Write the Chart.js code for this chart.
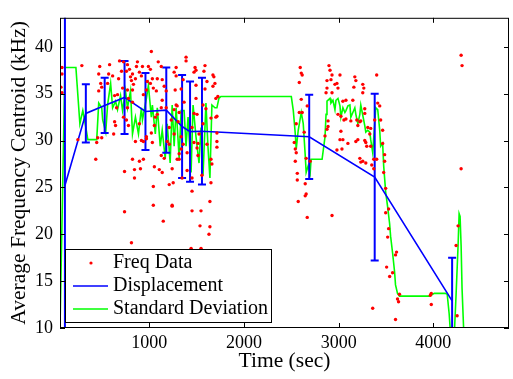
<!DOCTYPE html>
<html>
<head>
<meta charset="utf-8">
<script src="https://cdn.jsdelivr.net/npm/chart.js@4.4.1/dist/chart.umd.min.js"></script>
<style>
  html, body { margin: 0; padding: 0; background: #fff; }
</style>
</head>
<body>
<canvas id="freqChart" width="513" height="379"></canvas>
<script>
// tick values
const xTicks = [1000, 2000, 3000, 4000];
const yTicks = [10, 15, 20, 25, 30, 35, 40];

// red dots, [time (sec), centroid (kHz)]
const freqData = [
  [77,37.8],[77,37.1],[66,35.7],[77,35.1],[287,38.0],[245,30.1],[434,28.0],[444,29.8],[455,30.3],[497,30.3],
  [476,37.9],[465,37.1],[486,36.1],[465,35.3],[497,35.7],[559,36.1],[580,38.1],[570,37.1],[612,36.9],[633,34.8],
  [654,33.5],[633,32.0],[623,30.7],[643,31.6],[675,36.6],[685,38.5],[706,37.4],[727,38.4],[664,34.9],[717,35.6],
  [758,37.4],[769,38.1],[790,37.6],[801,36.8],[811,36.4],[822,35.4],[832,36.0],[853,36.6],[769,35.4],[769,33.5],
  [727,32.5],[758,32.2],[779,31.6],[822,34.1],[779,34.5],[822,37.1],[864,37.9],[874,38.4],[895,37.3],[916,36.9],
  [927,37.9],[937,34.9],[969,35.4],[979,36.3],[1011,36.1],[1021,39.5],[1011,37.6],[990,37.9],[1032,36.6],[1042,35.6],
  [1074,35.3],[1084,36.6],[1094,38.4],[1126,37.9],[1136,36.5],[1157,35.8],[1178,35.3],[1136,34.3],[1126,33.5],[1084,32.8],
  [1063,32.5],[1053,31.6],[1021,30.8],[969,30.4],[937,29.9],[895,31.8],[853,29.9],[843,26.9],[822,28.0],[843,26.0],
  [738,26.7],[738,22.4],[811,19.1],[906,27.0],[895,27.8],[937,28.0],[916,30.0],[969,30.2],[1032,29.8],[1042,25.1],
  [1053,27.2],[1042,23.1],[1126,28.4],[1105,26.9],[1136,26.6],[1157,28.1],[1252,25.5],[1241,23.1],[1147,21.4],[1189,29.9],
  [1210,29.6],[1241,27.0],[1262,30.7],[1315,28.6],[1294,28.0],[1336,29.1],[1304,32.0],[1178,33.5],[1210,31.4],[1231,32.2],
  [1262,33.3],[1283,33.8],[1315,33.0],[1262,37.3],[1283,37.8],[1283,36.9],[1273,35.4],[1336,35.5],[1357,36.5],[1388,38.9],
  [1388,38.5],[1367,34.1],[1294,33.7],[1483,37.8],[1493,37.5],[1472,37.3],[1493,35.9],[1493,34.5],[1472,32.9],[1504,32.8],
  [1588,38.0],[1577,37.4],[1609,36.3],[1588,35.5],[1567,33.8],[1598,33.4],[1672,37.0],[1682,36.8],[1693,36.1],[1672,35.8],
  [1703,34.5],[1724,34.7],[1651,32.4],[1714,32.6],[1315,28.0],[1357,29.6],[1336,30.4],[1451,24.6],[1399,28.7],[1451,31.4],
  [1472,29.8],[1514,29.7],[1525,30.7],[1504,29.2],[1514,28.4],[1567,31.8],[1556,26.3],[1609,29.6],[1651,28.0],[1651,25.5],
  [1661,27.5],[1640,23.5],[1714,29.9],[1714,29.3],[1703,32.5],[1714,30.8],[1451,22.5],[1546,22.5],[1640,20.8],[1630,20.0],
  [1535,20.9],[1441,18.5],[1546,18.5],[1241,23.0],[1451,26.0],[1346,26.0],[1399,26.8],[1210,25.3],
  [2552,28.7],[2542,27.8],[2563,26.5],[2563,25.8],[2647,25.4],[2657,24.3],[2573,23.5],[2647,24.1],[2668,21.8],[2930,22.0],
  [2594,37.8],[2605,37.2],[2615,37.0],[2584,36.2],[2605,34.4],[2668,33.7],[2584,33.0],[2615,33.0],[2552,31.8],[2531,29.8],
  [2542,29.1],[2657,28.1],[2699,27.8],[2636,30.9],[2898,38.0],[2909,37.5],[2930,37.0],[3014,37.0],[2877,36.4],[2919,36.5],
  [2961,36.0],[2982,36.1],[2993,35.6],[2877,35.6],[2867,35.1],[2930,35.1],[3171,36.8],[3182,36.4],[3161,35.7],[3255,36.0],
  [3266,35.6],[3255,35.1],[3402,37.0],[3077,34.3],[3045,34.2],[3150,34.3],[2993,32.8],[3024,32.6],[3077,32.3],[3056,32.2],
  [3129,32.1],[3192,32.2],[3203,31.6],[3276,33.4],[3276,32.9],[3234,32.1],[3224,32.0],[3308,31.4],[3329,30.7],[3276,30.0],
  [3182,29.9],[3203,30.1],[3098,29.7],[3024,31.0],[3045,30.1],[3014,30.1],[2982,29.0],[3035,29.1],[2888,32.1],[2888,31.5],
  [2877,31.2],[2856,30.5],[3339,29.4],[3287,29.8],[3297,29.4],[3381,32.2],[3413,34.0],[3444,32.2],[3224,28.1],[3255,27.8],
  [3234,27.7],[3287,27.6],[3350,27.4],[3371,27.0],[3465,31.1],[3465,29.7],[3486,28.5],[3486,27.8],[3434,33.7],[3339,31.3],
  [3371,28.0],[3402,28.0],[3476,26.6],[3497,24.9],[3528,22.7],[3497,22.3],[3528,20.6],[3518,19.7],[3612,18.1],[3601,17.8],
  [3507,16.5],[3570,15.9],[3539,15.5],[3643,13.6],[3622,13.1],[3633,12.8],[3360,12.1],[3601,10.9],[3979,13.7],[3969,13.5],
  [3979,12.5],[4294,27.0],[4262,20.9],[4241,18.8],[4252,11.3],[4294,39.1],[4304,38.0]
];

// blue line + error bars
const dispTime  = [108, 329, 528, 738, 959, 1179, 1346, 1430, 1556, 2689, 3381, 4199];
const dispValue = [25.2, 32.9, 33.75, 34.6, 33.1, 33.25, 31.5, 30.95, 31.0, 30.4, 26.1, 12.9];
const dispError = [20, 3.1, 2.95, 3.9, 4.1, 4.55, 5.5, 5.35, 5.7, 4.5, 8.9, 4.6];

// green line
const stdTime = [
  56, 108, 224, 266, 297, 329, 350, 444, 465, 497, 507, 539, 559, 591, 612, 643, 664, 696, 717, 748,
  769, 801, 822, 853, 885, 916, 927, 969, 990, 1021, 1032, 1063, 1084, 1115, 1136, 1168, 1189, 1220, 1241, 1262,
  1283, 1315, 1336, 1367, 1388, 1409, 1441, 1462, 1493, 1525, 1546, 1567, 1598, 1619, 1640, 1661, 1693, 1714, 1735, 1756,
  2500, 2521, 2542, 2552, 2573, 2605, 2626, 2647, 2657, 2678, 2699, 2709, 2825, 2856, 2867, 2877, 2909, 2919, 2940, 2961,
  2972, 2993, 3014, 3024, 3045, 3066, 3077, 3098, 3119, 3129, 3150, 3171, 3182, 3203, 3224, 3234, 3255, 3276, 3287, 3308,
  3329, 3339, 3360, 3381, 3392, 3413, 3434, 3444, 3465, 3476, 3497, 3518, 3539, 3549, 3570, 3591, 3601, 3622, 3643, 3958,
  4011, 4126, 4147, 4168, 4178, 4189, 4220, 4241, 4262, 4273, 4283, 4294, 4304, 4325
];
const stdValue = [
  10.0, 37.8, 37.8, 31.8, 33.2, 31.4, 30.1, 30.1, 34.0, 33.5, 32.2, 30.9, 33.8, 36.1, 33.5, 34.2, 33.3, 34.8, 33.2, 35.3,
  33.5, 35.3, 30.7, 32.5, 30.7, 33.5, 32.2, 34.5, 35.9, 32.5, 33.8, 30.7, 33.5, 29.4, 31.1, 28.1, 31.8, 27.6, 33.8, 29.4,
  33.5, 28.1, 33.2, 33.2, 29.4, 32.5, 26.6, 33.8, 30.4, 27.6, 31.4, 26.3, 34.0, 29.4, 26.0, 33.8, 33.5, 33.5, 34.5, 34.7,
  34.7, 33.2, 30.7, 29.1, 31.1, 33.0, 31.8, 28.4, 26.6, 27.3, 26.5, 28.0, 28.0, 30.4, 32.8, 34.2, 34.5, 34.0, 34.3, 33.3,
  34.3, 34.5, 33.7, 32.5, 33.5, 33.0, 33.2, 33.7, 33.8, 32.5, 33.0, 33.5, 32.8, 31.8, 32.8, 33.8, 32.7, 31.6, 30.9, 31.1,
  30.9, 30.1, 28.7, 31.8, 33.5, 33.3, 31.1, 29.4, 29.7, 27.3, 24.5, 22.9, 21.1, 19.8, 18.0, 16.0, 14.6, 13.7, 13.4, 13.4,
  13.7, 13.7, 13.6, 11.5, 10.0, 8.8, 8.8, 13.6, 18.8, 22.2, 21.9, 18.8, 14.2, 8.8
];

const serif = "'Liberation Serif', 'Times New Roman', serif";

// error bars belong to the Displacement series, drawn right after it
const errorBars = {
  id: "errorBars",
  afterDatasetDraw(chart, args) {
    if (args.index !== 1) return;
    const { ctx, chartArea, scales } = chart;
    ctx.save();
    ctx.beginPath();
    ctx.rect(chartArea.left, chartArea.top, chartArea.right - chartArea.left, chartArea.bottom - chartArea.top);
    ctx.clip();
    ctx.strokeStyle = "#0000ff";
    ctx.lineWidth = 2;
    dispTime.forEach((t, i) => {
      const x = scales.x.getPixelForValue(t);
      const yLo = scales.y.getPixelForValue(dispValue[i] - dispError[i]);
      const yHi = scales.y.getPixelForValue(dispValue[i] + dispError[i]);
      ctx.beginPath();
      ctx.moveTo(x, yLo); ctx.lineTo(x, yHi);
      ctx.moveTo(x - 4, yLo); ctx.lineTo(x + 4, yLo);
      ctx.moveTo(x - 4, yHi); ctx.lineTo(x + 4, yHi);
      ctx.stroke();
    });
    ctx.restore();
  },
};

// matlab style box with inward ticks, and the legend inside the axes
const frameAndLegend = {
  id: "frameAndLegend",
  afterDraw(chart) {
    const { ctx, chartArea: a, scales } = chart;
    ctx.save();
    ctx.strokeStyle = "#000";
    ctx.lineWidth = 1;
    ctx.strokeRect(a.left + 0.5, a.top + 0.5, a.right - a.left - 1, a.bottom - a.top - 1);
    ctx.beginPath();
    xTicks.forEach(t => {
      const x = Math.round(scales.x.getPixelForValue(t)) + 0.5;
      ctx.moveTo(x, a.bottom); ctx.lineTo(x, a.bottom - 5);
      ctx.moveTo(x, a.top); ctx.lineTo(x, a.top + 5);
    });
    yTicks.forEach(v => {
      const y = Math.round(scales.y.getPixelForValue(v)) + 0.5;
      ctx.moveTo(a.left, y); ctx.lineTo(a.left + 5, y);
      ctx.moveTo(a.right, y); ctx.lineTo(a.right - 5, y);
    });
    ctx.stroke();

    // legend
    const lx = 65, ly = 249, lw = 206, lh = 73;
    ctx.fillStyle = "#fff";
    ctx.fillRect(lx, ly, lw, lh);
    ctx.strokeRect(lx + 0.5, ly + 0.5, lw, lh);
    const ds = chart.data.datasets;
    const rows = [263, 286, 309];
    ctx.font = "20px " + serif;
    ctx.textBaseline = "middle";
    ctx.textAlign = "left";
    rows.forEach((y, i) => {
      if (i === 0) {
        ctx.fillStyle = ds[0].backgroundColor;
        ctx.beginPath();
        ctx.arc(91, y, 1.6, 0, Math.PI * 2);
        ctx.fill();
      } else {
        ctx.strokeStyle = ds[i].borderColor;
        ctx.lineWidth = 1.5;
        ctx.beginPath();
        ctx.moveTo(73, y); ctx.lineTo(108, y);
        ctx.stroke();
      }
      ctx.fillStyle = "#000";
      ctx.fillText(ds[i].label, 113, y);
    });
    ctx.restore();
  },
};

new Chart(document.getElementById("freqChart"), {
  type: "scatter",
  data: {
    datasets: [
      {
        label: "Freq Data",
        data: freqData.map(p => ({ x: p[0], y: p[1] })),
        backgroundColor: "#ff0000",
        borderWidth: 0,
        pointRadius: 1.7,
      },
      {
        label: "Displacement",
        data: dispTime.map((t, i) => ({ x: t, y: dispValue[i] })),
        showLine: true,
        borderColor: "#0000ff",
        borderWidth: 1.6,
        pointRadius: 0,
      },
      {
        label: "Standard Deviation",
        data: stdTime.map((t, i) => ({ x: t, y: stdValue[i] })),
        showLine: true,
        borderColor: "#00ff00",
        borderWidth: 1.6,
        pointRadius: 0,
      },
    ],
  },
  options: {
    responsive: false,
    animation: false,
    layout: { padding: { left: 0, right: 1, top: 7, bottom: 0 } },
    plugins: {
      legend: { display: false },
      tooltip: { enabled: false },
    },
    scales: {
      x: {
        type: "linear",
        min: 56,
        max: 4800,
        afterBuildTicks: s => { s.ticks = xTicks.map(v => ({ value: v })); },
        afterFit: s => { s.height = 51; },
        grid: { display: false, drawTicks: false },
        border: { display: false },
        ticks: {
          callback: v => String(v),
          color: "#000",
          padding: 4,
          maxRotation: 0,
          font: { family: serif, size: 18 },
        },
        title: {
          display: true,
          text: "Time (sec)",
          color: "#000",
          padding: { bottom: 5, top: 0 },
          font: { family: serif, size: 21.5 },
        },
      },
      y: {
        min: 10,
        max: 43.1,
        afterBuildTicks: s => { s.ticks = yTicks.map(v => ({ value: v })); },
        afterFit: s => { s.width = 60; },
        grid: { display: false, drawTicks: false },
        border: { display: false },
        ticks: {
          callback: v => String(v),
          color: "#000",
          padding: 7,
          font: { family: serif, size: 18 },
        },
        title: {
          display: true,
          text: "Average Frequency Centroid (kHz)",
          color: "#000",
          padding: { top: 6, bottom: 0 },
          font: { family: serif, size: 21.5 },
        },
      },
    },
  },
  plugins: [errorBars, frameAndLegend],
});
</script>
</body>
</html>
